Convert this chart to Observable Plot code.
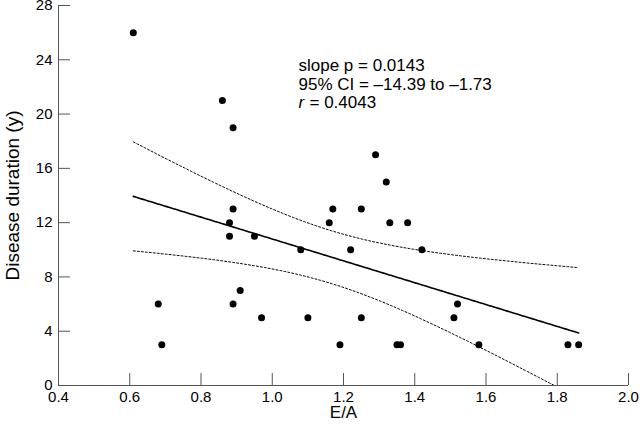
<!DOCTYPE html>
<html><head><meta charset="utf-8">
<script src="https://cdn.jsdelivr.net/npm/d3@7"></script>
<script src="https://cdn.jsdelivr.net/npm/@observablehq/plot@0.6"></script>
<style>body{margin:0;background:#fff} svg{display:block}</style>
</head><body><div id="chart"></div>
<script>
// E/A ratio (x) and disease duration in years (y)
const ea = [0.61, 0.86, 0.89, 1.29, 1.32, 0.89, 1.17, 1.25, 0.88, 1.16, 1.33, 1.38, 0.88, 0.95, 1.08, 1.22,
            1.42, 0.91, 0.68, 0.89, 1.52, 0.97, 1.10, 1.25, 1.51, 0.69, 1.19, 1.35, 1.36, 1.58, 1.83, 1.86];
const duration = [26, 21, 19, 17, 15, 13, 13, 13, 12, 12, 12, 12, 11, 11, 10, 10,
                  10, 7, 6, 6, 6, 5, 5, 5, 5, 3, 3, 3, 3, 3, 3, 3];
const xTicks = [0.4, 0.6, 0.8, 1.0, 1.2, 1.4, 1.6, 1.8, 2.0];
const yTicks = [0, 4, 8, 12, 16, 20, 24, 28];
const xLabel = "E/A";
const yLabel = "Disease duration (y)";
const statLine1 = "slope p = 0.0143";
const statLine2 = "95% CI = \u201314.39 to \u20131.73";
const statR = "r";
const statLine3 = "= 0.4043";
const tCrit = 2.042; // t(0.975, df = 30)

const points = ea.map((x, i) => ({x, y: duration[i]}));
const n = points.length;
const mx = d3.mean(ea), my = d3.mean(duration);
const sxx = d3.sum(ea, x => (x - mx) ** 2);
const sxy = d3.sum(points, d => (d.x - mx) * (d.y - my));
const slope = sxy / sxx, intercept = my - slope * mx;
const sse = d3.sum(points, d => (d.y - intercept - slope * d.x) ** 2);
const s = Math.sqrt(sse / (n - 2));
const [x0, x1] = d3.extent(ea);
const band = d3.range(0, 201).map(i => {
  const x = x0 + (x1 - x0) * i / 200;
  const f = intercept + slope * x;
  const h = tCrit * s * Math.sqrt(1 / n + (x - mx) ** 2 / sxx);
  return {x, fit: f, lo: f - h, hi: f + h};
});

const axisColor = "#555";
const chart = Plot.plot({
  width: 640, height: 437,
  marginTop: 5, marginRight: 12, marginBottom: 52, marginLeft: 58,
  style: {fontFamily: "'Liberation Sans', Arial, Helvetica, sans-serif", fontSize: "15px", color: "black", background: "white", overflow: "visible"},
  x: {domain: [0.4, 2.0]},
  y: {domain: [0, 28]},
  marks: [
    Plot.ruleX(xTicks, {stroke: axisColor, insetTop: 368}),
    Plot.ruleY(yTicks, {stroke: axisColor, insetRight: 558}),
    Plot.ruleY([0], {stroke: axisColor}),
    Plot.ruleX([0.4], {stroke: axisColor}),
    Plot.axisX(xTicks, {tickSize: 0, tickPadding: 6, tickFormat: d3.format(".1f"), label: null, fontSize: 15}),
    Plot.axisY(yTicks, {tickSize: 0, tickPadding: 6, label: null, fontSize: 15}),
    Plot.line(band, {x: "x", y: "hi", stroke: "black", strokeWidth: 1, strokeDasharray: "2,2", clip: true}),
    Plot.line(band, {x: "x", y: "lo", stroke: "black", strokeWidth: 1, strokeDasharray: "2,2", clip: true}),
    Plot.line(band, {x: "x", y: "fit", stroke: "black", strokeWidth: 1.6}),
    Plot.dot(points, {x: "x", y: "y", r: 3.5, fill: "black", stroke: "none"}),
    Plot.text([statLine1], {frameAnchor: "top-left", dx: 240, dy: 60, textAnchor: "start", lineAnchor: "middle", fontSize: 17}),
    Plot.text([statLine2], {frameAnchor: "top-left", dx: 240, dy: 79, textAnchor: "start", lineAnchor: "middle", fontSize: 17}),
    Plot.text([statR], {frameAnchor: "top-left", dx: 240, dy: 97, textAnchor: "start", lineAnchor: "middle", fontSize: 17, fontStyle: "italic"}),
    Plot.text([statLine3], {frameAnchor: "top-left", dx: 251, dy: 97, textAnchor: "start", lineAnchor: "middle", fontSize: 17}),
    Plot.text([xLabel], {frameAnchor: "bottom", dy: 27, textAnchor: "middle", lineAnchor: "middle", fontSize: 17}),
    Plot.text([yLabel], {frameAnchor: "left", dx: -46, rotate: -90, textAnchor: "middle", lineAnchor: "middle", fontSize: 19})
  ]
});
document.getElementById("chart").appendChild(chart);
</script>
</body></html>
